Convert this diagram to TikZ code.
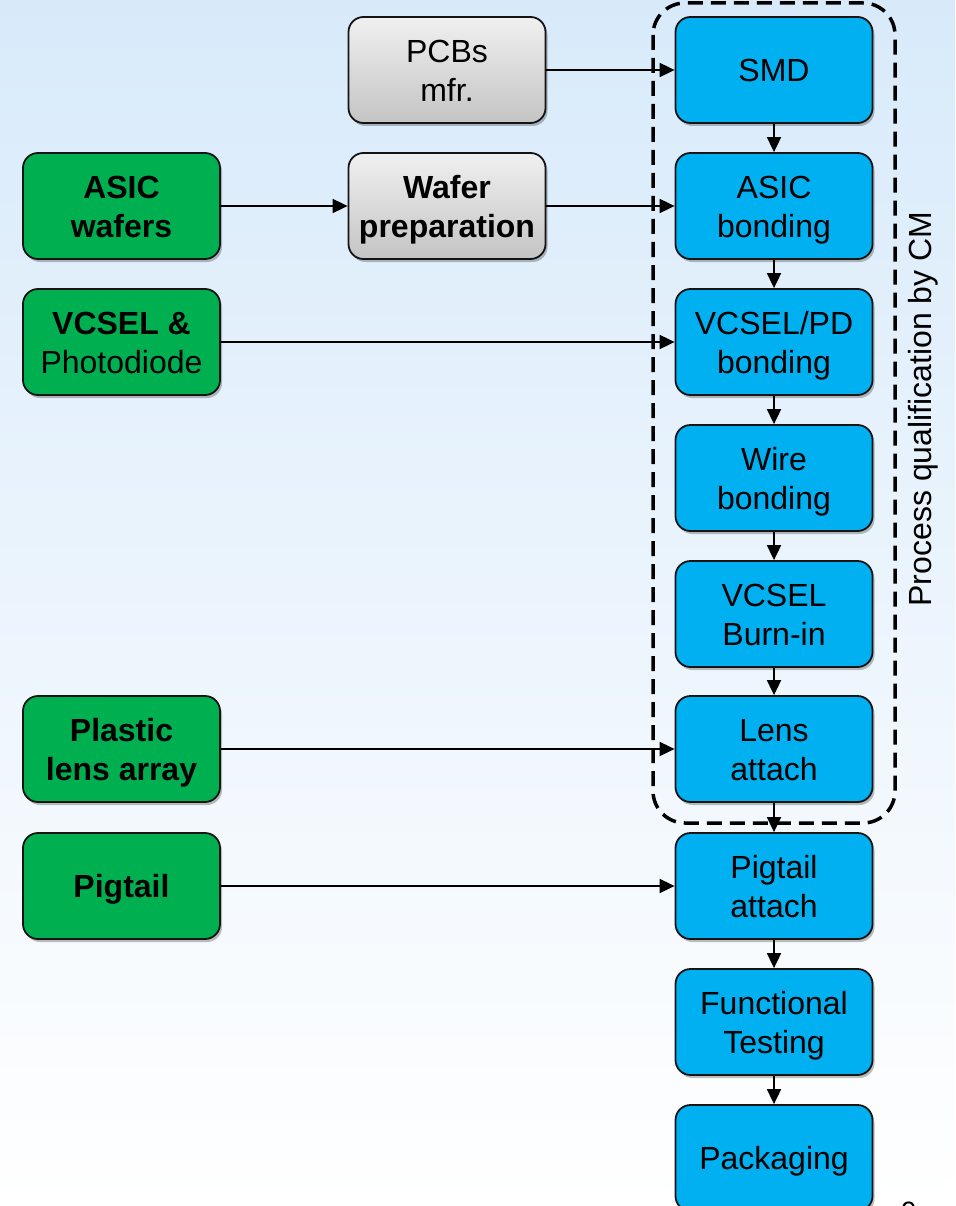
\documentclass[tikz,border=0pt]{standalone}
\usepackage{fontspec}
\setmainfont{Liberation Sans}
\usetikzlibrary{arrows.meta,shadows}
\definecolor{bgtop}{RGB}{216,234,250}
\definecolor{bluebox}{RGB}{0,176,240}
\definecolor{greenbox}{RGB}{0,176,80}
\definecolor{graytop}{RGB}{240,240,240}
\definecolor{graybot}{RGB}{196,196,196}
\definecolor{edge}{RGB}{20,20,20}
\newcommand\bs{\rule[-6pt]{0pt}{36pt}}
\tikzset{
  boxbase/.style={draw=edge, line width=1.8pt, rounded corners=15pt,
    minimum width=197pt, minimum height=106pt, align=center, inner sep=2pt,
    font=\fontsize{32}{39}\selectfont,
    drop shadow={shadow xshift=2pt, shadow yshift=-3pt, opacity=0.25, fill=black}},
  bluestep/.style={boxbase, fill=bluebox},
  greenstep/.style={boxbase, fill=greenbox},
  graystep/.style={boxbase, top color=graytop, bottom color=graybot},
  conn/.style={line width=1.8pt, -{Triangle[length=15pt,width=14pt]}},
  qualbox/.style={line width=3.5pt, dash pattern=on 15pt off 8pt, rounded corners=32pt}
}
\begin{document}
\begin{tikzpicture}[x=1pt,y=-1pt]
\useasboundingbox (0,0) rectangle (955,1206);
\clip (0,0) rectangle (955,1206);
\shade[top color=bgtop, bottom color=white] (0,0) rectangle (955,1206);

% qualification frame
\draw[qualbox] (653,3) rectangle (895,823);
\node[rotate=90, anchor=base, font=\fontsize{32}{39}\selectfont] (qlabel) at (931,409) {Process qualification by CM};

% main chain
\node[bluestep] (smd) at (774,70) {\bs SMD\bs};
\node[bluestep] (asicb) at (774,206) {\bs ASIC\\bonding\bs};
\node[bluestep] (vcselb) at (774,342) {\bs VCSEL/PD\\bonding\bs};
\node[bluestep] (wire) at (774,478) {\bs Wire\\bonding\bs};
\node[bluestep] (burn) at (774,614) {\bs VCSEL\\Burn-in\bs};
\node[bluestep] (lens) at (774,749) {\bs Lens\\attach\bs};
\node[bluestep] (pig) at (774,886) {\bs Pigtail\\attach\bs};
\node[bluestep] (func) at (774,1022) {\bs Functional\\Testing\bs};
\node[bluestep] (pack) at (774,1158) {\bs Packaging\bs};

% gray boxes
\node[graystep] (pcb) at (447,70) {\bs PCBs\\mfr.\bs};
\node[graystep] (wafer) at (447,206) {\bs\textbf{Wafer}\\\textbf{preparation}\bs};

% green inputs
\node[greenstep] (asicw) at (121.5,206) {\bs\textbf{ASIC}\\\textbf{wafers}\bs};
\node[greenstep] (vcsel) at (121.5,342) {\bs\textbf{VCSEL \&}\\Photodiode\bs};
\node[greenstep] (plastic) at (121.5,749) {\bs\textbf{Plastic}\\\textbf{lens array}\bs};
\node[greenstep] (pigin) at (121.5,886) {\bs\textbf{Pigtail}\bs};

% connectors
\draw[conn] (pcb.east) -- (smd.west);
\draw[conn] (asicw.east) -- (wafer.west);
\draw[conn] (wafer.east) -- (asicb.west);
\draw[conn] (vcsel.east) -- (vcselb.west);
\draw[conn] (plastic.east) -- (lens.west);
\draw[conn] (pigin.east) -- (pig.west);

\draw[conn] (smd.south) -- (asicb.north);
\draw[conn] (asicb.south) -- (vcselb.north);
\draw[conn] (vcselb.south) -- (wire.north);
\draw[conn] (wire.south) -- (burn.north);
\draw[conn] (burn.south) -- (lens.north);
\draw[conn] (lens.south) -- (pig.north);
\draw[conn] (pig.south) -- (func.north);
\draw[conn] (func.south) -- (pack.north);

% page number (cut off at the lower edge, as in the reference)
\node[anchor=base, font=\fontsize{28}{32}\selectfont, inner sep=0pt] (pagenum) at (909,1221) {9};
\end{tikzpicture}
\end{document}
